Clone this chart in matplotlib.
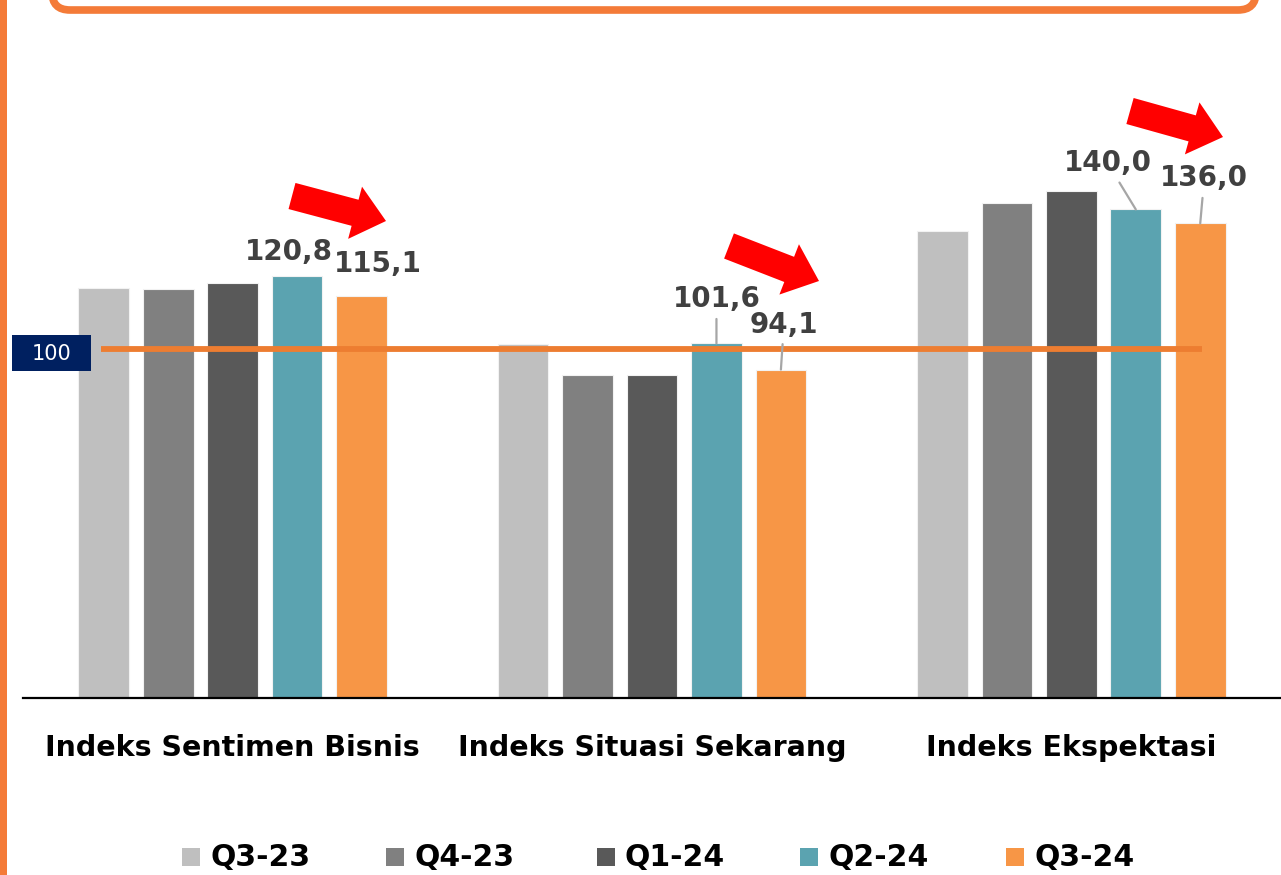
import matplotlib
matplotlib.use("Agg")
import matplotlib.pyplot as plt
from matplotlib.patches import Rectangle, FancyArrow, FancyBboxPatch
import numpy as np

categories = ["Indeks Sentimen Bisnis", "Indeks Situasi Sekarang", "Indeks Ekspektasi"]
series = ["Q3-23", "Q4-23", "Q1-24", "Q2-24", "Q3-24"]
q3_23 = [117.5, 101.4, 133.8]
q4_23 = [117.2, 92.6, 141.7]
q1_24 = [118.9, 92.6, 145.3]
q2_24 = [120.8, 101.6, 140.0]
q3_24 = [115.1, 94.1, 136.0]
values = [q3_23, q4_23, q1_24, q2_24, q3_24]
colors = ["#BFBFBF", "#808080", "#595959", "#5BA3B0", "#F79646"]
reference = 100

W, H = 1281, 875
fig = plt.figure(figsize=(W / 100, H / 100), dpi=100)
fig.patch.set_facecolor("white")

ax = fig.add_axes([23 / W, (H - 698) / H, 1258 / W, 628.2 / H])
ax.set_xlim(-0.5, 2.5)
ax.set_ylim(0, 180)
x = np.arange(len(categories))
bw = 0.121
step = 0.1537
for i, (s, v, c) in enumerate(zip(series, values, colors)):
    ax.bar(x + (i - 2) * step, v, width=bw, color=c, edgecolor="#F2F2F2", linewidth=0.8, zorder=2)
ax.plot([-0.314, 2.312], [reference, reference], color="#ED7D31", lw=4.2, zorder=3, solid_capstyle="butt")
for sp in ["top", "right", "left"]:
    ax.spines[sp].set_visible(False)
ax.spines["bottom"].set_linewidth(1.6)
ax.spines["bottom"].set_color("black")
ax.set_yticks([])
ax.set_xticks(x)
ax.set_xticklabels(categories, fontsize=20.5, fontweight="bold", family="DejaVu Sans")
ax.tick_params(axis="x", length=0, pad=26)

# data labels for Q2-24 and Q3-24
lab_col = "#404040"
offsets = {
    (3, 0): (-8, 24, False), (4, 0): (16, 32, False),
    (3, 1): (0, 44, True), (4, 1): (3, 45, True),
    (3, 2): (-28, 46, True), (4, 2): (4, 45, True),
}
for (si, ci), (dx, dy, lead) in offsets.items():
    val = values[si][ci]
    xb = x[ci] + (si - 2) * step
    txt = f"{val:.1f}".replace(".", ",")
    kw = dict(arrowprops=dict(arrowstyle="-", color="#A6A6A6", lw=1.6, shrinkA=2, shrinkB=0)) if lead else {}
    ax.annotate(txt, xy=(xb, val), xytext=(dx, dy), textcoords="offset pixels",
                ha="center", va="center", fontsize=20, fontweight="bold", color=lab_col,
                zorder=5, **kw)

# overlay in pixel coordinates
ov = fig.add_axes([0, 0, 1, 1], zorder=10)
ov.set_xlim(0, W)
ov.set_ylim(H, 0)
ov.axis("off")
ov.patch.set_alpha(0)

# left orange border
ov.add_patch(Rectangle((0, 0), 7, H, color="#F47B38", lw=0))
# top rounded box
ov.add_patch(FancyBboxPatch((52, -60), 1204, 70, boxstyle="round,pad=0,rounding_size=18",
                            fc="white", ec="#F47B38", lw=5.5))
# reference label
ov.add_patch(Rectangle((12, 335), 79, 36, color="#002060", lw=0))
ov.text(51.5, 354, str(reference), color="white", fontsize=15, ha="center", va="center")

# red arrows
arrows = [((292, 196), (386, 221)), ((729, 246), (819, 281)), ((1130, 111), (1223, 137))]
for (x0, y0), (x1, y1) in arrows:
    ov.add_patch(FancyArrow(x0, y0, x1 - x0, y1 - y0, width=27, head_width=54, head_length=32,
                            length_includes_head=True, color="#FF0000", lw=0))

# legend
leg_x = [182, 386, 597, 800, 1006]
for lx, s, c in zip(leg_x, series, colors):
    ov.add_patch(Rectangle((lx, 848), 18, 18, color=c, lw=0))
    ov.text(lx + 28, 858, s, fontsize=21.5, fontweight="bold", ha="left", va="center",
            family="DejaVu Sans", color="black")

fig.savefig("out.png", dpi=100)
